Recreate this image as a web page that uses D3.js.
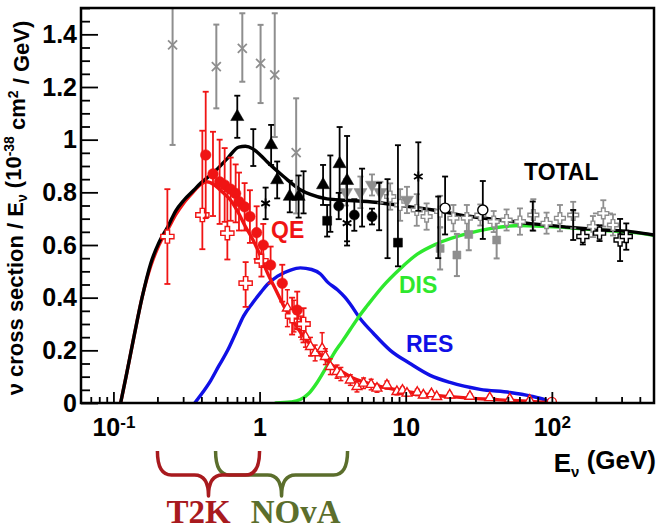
<!DOCTYPE html>
<html>
<head>
<meta charset="utf-8">
<script src="https://cdn.jsdelivr.net/npm/d3@7"></script>
<style>
  body { margin: 0; background: #fff; }
  svg { display: block; }
  text { font-family: "Liberation Sans", Arial, Helvetica, sans-serif; font-weight: bold; }
</style>
</head>
<body>
<svg id="chart" width="658" height="531"></svg>
<script>
// ---------------- axis definitions ----------------
const xDomain = [0.06, 500];          // neutrino energy, GeV (log)
const yDomain = [0, 1.5];            // sigma / E, 1e-38 cm^2 / GeV
const yMajorTicks = [0, 0.2, 0.4, 0.6, 0.8, 1, 1.2, 1.4];
const yTickLabels = ["0", "0.2", "0.4", "0.6", "0.8", "1", "1.2", "1.4"];
const xMajorTicks = [0.1, 1, 10, 100];
const xTickBase = ["10", "1", "10", "10"];
const xTickExp = ["-1", "", "", "2"];

// ---------------- model curves: [E, sigma/E] ----------------
const totalCurve = [[0.112,0],[0.122,0.10],[0.138,0.25],[0.157,0.40],[0.180,0.53],[0.205,0.61],[0.236,0.67],[0.267,0.73],[0.303,0.77],[0.35,0.805],[0.396,0.835],[0.449,0.86],[0.517,0.89],[0.605,0.93],[0.72,0.972],[0.80,0.975],[0.90,0.965],[1.02,0.94],[1.13,0.915],[1.46,0.86],[1.9,0.81],[2.23,0.792],[2.9,0.775],[3.86,0.77],[5.46,0.765],[9.2,0.75],[15.4,0.733],[26.3,0.71],[44,0.695],[74,0.68],[127,0.668],[213,0.658],[357,0.65],[500,0.638]];
const qeCurve = [[0.112,0],[0.122,0.10],[0.138,0.25],[0.157,0.40],[0.180,0.52],[0.205,0.60],[0.236,0.66],[0.267,0.715],[0.303,0.76],[0.35,0.80],[0.396,0.83],[0.435,0.84],[0.485,0.83],[0.559,0.80],[0.634,0.77],[0.72,0.72],[0.80,0.67],[0.90,0.62],[1.02,0.555],[1.13,0.495],[1.29,0.43],[1.46,0.37],[1.68,0.315],[1.9,0.27],[2.16,0.23],[2.49,0.195],[2.82,0.165],[3.2,0.14],[3.69,0.118],[4.18,0.10],[5.29,0.078],[7.02,0.06],[12,0.037],[20,0.024],[44,0.012],[71,0.006],[100,0]];
const resCurve = [[0.36,0],[0.396,0.03],[0.463,0.085],[0.525,0.14],[0.605,0.20],[0.686,0.265],[0.777,0.33],[0.896,0.38],[1.02,0.42],[1.13,0.45],[1.33,0.482],[1.63,0.505],[1.9,0.513],[2.27,0.507],[2.61,0.49],[2.91,0.46],[3.41,0.43],[3.86,0.40],[4.18,0.375],[4.89,0.32],[6.0,0.265],[7.84,0.20],[10.7,0.15],[14.7,0.105],[20.1,0.078],[32.3,0.052],[51.7,0.04],[70.8,0.027],[89.6,0.012],[100,0]];
const disCurve = [[1.29,0],[1.63,0.004],[1.9,0.013],[2.16,0.035],[2.49,0.08],[2.82,0.13],[3.2,0.185],[3.69,0.235],[4.18,0.28],[4.74,0.325],[5.46,0.37],[7.02,0.445],[9.17,0.51],[12,0.565],[16.4,0.605],[26.3,0.643],[37.7,0.662],[60,0.674],[113,0.668],[213,0.656],[357,0.648],[500,0.637]];

// ---------------- measurements: [E, sigma/E, err-, err+] ----------------
const qeFilledCircles = [[0.428,0.942,0.24,0.24],[0.480,0.870,0.16,0.16],[0.533,0.840,0.16,0.16],[0.577,0.828,0.14,0.14],[0.634,0.812,0.12,0.12],[0.686,0.796,0.11,0.11],[0.723,0.765,0.11,0.11],[0.790,0.745,0.09,0.09],[0.859,0.708,0.10,0.10],[0.955,0.647,0.10,0.10],[1.06,0.600,0.08,0.08],[1.19,0.524,0.07,0.07],[1.43,0.455,0.07,0.07],[1.81,0.353,0.07,0.07]];
const qeOpenCrosses = [[0.234,0.632,0.18,0.18],[0.406,0.714,0.13,0.32],[0.602,0.645,0.10,0.16],[0.803,0.455,0.09,0.08],[1.03,0.54,0.06,0.06],[1.67,0.33,0.07,0.07],[2.0,0.30,0.07,0.06]];
const qeOpenTriangles = [[1.55,0.36,0.07,0.07],[1.72,0.33,0.06,0.06],[1.905,0.29,0.04,0.04],[2.06,0.252,0.04,0.04],[2.23,0.214,0.035,0.035],[2.4,0.19,0.03,0.03],[2.68,0.207,0.03,0.06],[2.82,0.176,0.03,0.03],[3.05,0.138,0.03,0.03],[3.39,0.119,0.025,0.025],[3.6,0.11,0.025,0.025],[4.18,0.087,0.02,0.02],[4.64,0.062,0.02,0.02],[5.15,0.075,0.02,0.02],[5.8,0.07,0.02,0.02],[6.36,0.056,0.015,0.015],[7.44,0.068,0.015,0.015],[8.71,0.043,0.012,0.012],[9.5,0.048,0.012,0.012],[10.2,0.037,0.01,0.01],[12,0.04,0.012,0.012],[13.2,0.030,0.01,0.01],[15,0.035,0.01,0.01],[16.3,0.024,0.008,0.008],[20,0.03,0.01,0.01],[27.5,0.025,0.01,0.01],[37.6,0.02,0.008,0.008],[51.5,0.015,0.006,0.006],[70.5,0.01,0.005,0.005]];
const qeOpenCircles = [[100,0.004,0.004,0.004]];

const totFilledTriangles = [[0.704,1.087,0.08,0.08],[1.20,0.98,0.076,0.076],[1.32,0.847,0.07,0.07],[1.61,0.784,0.06,0.06],[1.85,0.784,0.08,0.08],[2.72,0.828,0.076,0.076],[3.53,0.908,0.14,0.14],[3.97,0.844,0.23,0.17]];
const totFilledCircles = [[3.48,0.748,0.05,0.05],[4.45,0.714,0.06,0.06],[5.88,0.708,0.03,0.03]];
const totFilledSquares = [[2.9,0.692,0.06,0.06],[8.85,0.609,0.09,0.37]];
const totStars = [[1.1,0.758,0.06,0.06],[3.97,0.683,0.085,0.085],[12.2,0.86,0.13,0.13]];
const totBars = [[0.906,0.97,0.07,0.07],[2.0,0.80,0.08,0.08],[3.05,0.79,0.14,0.15],[5.03,0.78,0.11,0.11],[6.58,0.746,0.09,0.09],[7.51,0.70,0.15,0.15],[16.7,0.667,0.117,0.117],[74,0.71,0.055,0.055],[140,0.676,0.057,0.057]];
const totOpenCircles = [[18.6,0.74,0.10,0.12],[33.7,0.733,0.11,0.11]];
const totOpenCrosses = [[163,0.632,0.03,0.03],[212,0.645,0.03,0.03],[293,0.619,0.08,0.08],[323,0.632,0.05,0.05]];

const grayX = [[0.254,1.36,0.38,0.14],[0.506,1.277,0.158,0.16],[0.762,1.347,0.127,0.133],[1.016,1.29,0.151,0.146],[1.27,1.246,0.236,0.234],[1.78,0.951,0.231,0.206]];
const graySquares = [[17.2,0.587,0.08,0.08],[22.4,0.562,0.08,0.08],[27,0.64,0.06,0.06],[41.9,0.619,0.07,0.07]];
const grayTrianglesDown = [[3.9,0.80,0.05,0.05],[4.9,0.80,0.06,0.06],[5.88,0.828,0.04,0.04],[6.71,0.80,0.04,0.04],[10.2,0.771,0.05,0.05]];
const grayOpenCrosses = [[7.83,0.784,0.05,0.05],[9.16,0.752,0.06,0.06],[11.9,0.733,0.06,0.06],[13.9,0.708,0.05,0.05],[17.2,0.727,0.06,0.06],[21.2,0.702,0.05,0.05],[26.2,0.702,0.05,0.05],[32.4,0.714,0.04,0.04],[40,0.689,0.04,0.04],[49,0.695,0.04,0.04],[60.5,0.689,0.05,0.05],[74.7,0.714,0.06,0.06],[92,0.683,0.04,0.04],[113.6,0.702,0.05,0.05],[140,0.714,0.05,0.05],[191,0.67,0.04,0.04],[262,0.676,0.04,0.04]];
// wide-bin point: [E, sigma/E, err-, err+, Emin, Emax]
const grayWideBins = [[225,0.72,0.05,0.05,191,262]];

// ---------------- experiment energy ranges ----------------
const experiments = ["T2K", "NOvA"];
const rangeLow = [0.2, 0.5];
const rangeHigh = [1, 4];
const experimentColors = ["#a81a1e", "#5b6e2c"];

// ---------------- layout ----------------
const svg = d3.select("#chart");
const frameL = 81, frameR = 654, frameT = 8, frameB = 403;
const x = d3.scaleLog().domain(xDomain).range([frameL, frameR]);
const y = d3.scaleLinear().domain(yDomain).range([frameB, frameT]);

const RED = "#f01414", BLACK = "#000", GRAY = "#8e8e8e";
const BLUE = "#1010e6", GREEN = "#2ee82e";

svg.append("defs").append("clipPath").attr("id", "plotArea")
  .append("rect").attr("x", frameL).attr("y", frameT)
  .attr("width", frameR - frameL).attr("height", frameB - frameT);

const plot = svg.append("g").attr("clip-path", "url(#plotArea)");

// ---------------- curves ----------------
const line = d3.line().x(d => x(d[0])).y(d => y(d[1])).curve(d3.curveMonotoneX);
[[resCurve, BLUE], [disCurve, GREEN], [qeCurve, RED], [totalCurve, BLACK]].forEach(([data, color]) => {
  plot.append("path").datum(data).attr("d", line)
    .attr("fill", "none").attr("stroke", color).attr("stroke-width", 3.4)
    .attr("stroke-linejoin", "round").attr("stroke-linecap", "round");
});

// ---------------- markers ----------------
function shapePath(shape, s) {
  switch (shape) {
    case "circle": return d3.symbol(d3.symbolCircle, s * s * 0.8)();
    case "triangle": return d3.symbol(d3.symbolTriangle, s * s * 0.75)();
    case "square": return d3.symbol(d3.symbolSquare, s * s * 0.8)();
    case "plus": return d3.symbol(d3.symbolCross, s * s * 0.8)();
    case "x": { const h = s / 2; return `M${-h},${-h}L${h},${h}M${-h},${h}L${h},${-h}`; }
    case "star": {
      const h = s / 2, c = h * Math.cos(Math.PI / 6), q = h * Math.sin(Math.PI / 6);
      return `M0,${-h}L0,${h}M${-c},${-q}L${c},${q}M${-c},${q}L${c},${-q}`;
    }
  }
  return "";
}

function drawSeries(data, opt) {
  const g = plot.append("g");
  const cap = opt.cap ?? 3;
  const bw = opt.bw ?? 1.8;
  const pts = g.selectAll("g").data(data).join("g");
  pts.append("line")
    .attr("x1", d => x(d[0])).attr("x2", d => x(d[0]))
    .attr("y1", d => y(d[1] - d[2])).attr("y2", d => y(d[1] + d[3]))
    .attr("stroke", opt.color).attr("stroke-width", bw);
  [-1, 1].forEach(sgn => {
    const ey = d => y(sgn < 0 ? d[1] - d[2] : d[1] + d[3]);
    pts.append("line")
      .attr("x1", d => x(d[0]) - cap).attr("x2", d => x(d[0]) + cap)
      .attr("y1", ey).attr("y2", ey)
      .attr("stroke", opt.color).attr("stroke-width", bw);
  });
  pts.filter(d => d.length > 4).append("line")
    .attr("x1", d => x(d[4])).attr("x2", d => x(d[5]))
    .attr("y1", d => y(d[1])).attr("y2", d => y(d[1]))
    .attr("stroke", opt.color).attr("stroke-width", bw);
  if (opt.shape) {
    const stroked = opt.shape === "x" || opt.shape === "star";
    pts.append("path")
      .attr("d", shapePath(opt.shape, opt.size ?? 9))
      .attr("transform", d => `translate(${x(d[0])},${y(d[1])})${opt.rotate ? " rotate(180)" : ""}`)
      .attr("fill", stroked ? "none" : (opt.hollow ? "#fff" : opt.color))
      .attr("stroke", opt.color)
      .attr("stroke-width", stroked ? 1.8 : (opt.hollow ? 1.4 : 0.5));
  }
}

drawSeries(grayX, { color: GRAY, shape: "x", size: 9, bw: 2 });
drawSeries(graySquares, { color: GRAY, shape: "square", size: 9, bw: 2 });
drawSeries(grayOpenCrosses, { color: GRAY, shape: "plus", size: 9, hollow: true, bw: 1.8 });
drawSeries(grayWideBins, { color: GRAY, shape: "plus", size: 9, hollow: true, bw: 1.8 });
drawSeries(grayTrianglesDown, { color: GRAY, shape: "triangle", size: 10, rotate: true, bw: 1.8 });

drawSeries(totBars, { color: BLACK, bw: 1.8 });
drawSeries(totFilledTriangles, { color: BLACK, shape: "triangle", size: 10 });
drawSeries(totFilledCircles, { color: BLACK, shape: "circle", size: 10 });
drawSeries(totFilledSquares, { color: BLACK, shape: "square", size: 10 });
drawSeries(totStars, { color: BLACK, shape: "star", size: 10 });
drawSeries(totOpenCircles, { color: BLACK, shape: "circle", size: 10, hollow: true });
drawSeries(totOpenCrosses, { color: BLACK, shape: "plus", size: 10, hollow: true });

drawSeries(qeOpenTriangles, { color: RED, shape: "triangle", size: 7.5, hollow: true, bw: 1.5, cap: 2.5 });
drawSeries(qeOpenCrosses, { color: RED, shape: "plus", size: 11, hollow: true });
drawSeries(qeFilledCircles, { color: RED, shape: "circle", size: 10.5 });
drawSeries(qeOpenCircles, { color: RED, shape: "circle", size: 9, hollow: true });

// ---------------- frame & axes ----------------
svg.append("rect").attr("x", frameL).attr("y", frameT)
  .attr("width", frameR - frameL).attr("height", frameB - frameT)
  .attr("fill", "none").attr("stroke", "#000").attr("stroke-width", 2.5);

const yMinor = d3.range(0, 1.5001, 0.05).filter(v => !yMajorTicks.some(t => Math.abs(t - v) < 1e-6));
const yMinorAxis = svg.append("g").attr("transform", `translate(${frameL},0)`)
  .call(d3.axisLeft(y).tickValues(yMinor).tickSize(-9).tickFormat(""));
const yAxis = svg.append("g").attr("transform", `translate(${frameL},0)`)
  .call(d3.axisLeft(y).tickValues(yMajorTicks).tickSize(-17).tickPadding(4)
    .tickFormat((d, i) => yTickLabels[i]));

const xMinor = [];
for (let p = -2; p <= 2; p++) for (let k = 2; k <= 9; k++) {
  const v = k * Math.pow(10, p);
  if (v > xDomain[0] && v < xDomain[1]) xMinor.push(v);
}
const xMinorAxis = svg.append("g").attr("transform", `translate(0,${frameB})`)
  .call(d3.axisBottom(x).tickValues(xMinor).tickSize(-6).tickFormat(""));
const xAxis = svg.append("g").attr("transform", `translate(0,${frameB})`)
  .call(d3.axisBottom(x).tickValues(xMajorTicks).tickSize(-11).tickPadding(15)
    .tickFormat((d, i) => xTickBase[i]));

[yMinorAxis, yAxis, xMinorAxis, xAxis].forEach(g => {
  g.select(".domain").remove();
  g.selectAll(".tick line").attr("stroke", "#000").attr("stroke-width", 1.8);
  g.selectAll(".tick text").attr("fill", "#000")
    .style("font-size", "25px").style("font-weight", "bold")
    .style("font-family", '"Liberation Sans", Arial, sans-serif');
});
xAxis.selectAll(".tick text").each(function (d, i) {
  if (!xTickExp[i]) return;
  d3.select(this).append("tspan").attr("dy", "-0.45em").style("font-size", "17px").text(xTickExp[i]);
});

// axis titles
const yTitle = svg.append("text").attr("transform", "translate(23,208) rotate(-90)")
  .attr("text-anchor", "middle").style("font-size", "22px").attr("fill", "#000");
yTitle.append("tspan").text("\u03bd cross section / E");
yTitle.append("tspan").attr("dy", "0.3em").style("font-size", "14px").text("\u03bd");
yTitle.append("tspan").attr("dy", "-0.3em").text(" (10");
yTitle.append("tspan").attr("dy", "-0.5em").style("font-size", "14px").text("-38");
yTitle.append("tspan").attr("dy", "0.5em").text(" cm");
yTitle.append("tspan").attr("dy", "-0.5em").style("font-size", "14px").text("2");
yTitle.append("tspan").attr("dy", "0.5em").text(" / GeV)");

const xTitle = svg.append("text").attr("x", 656).attr("y", 472)
  .attr("text-anchor", "end").style("font-size", "26px").attr("fill", "#000");
xTitle.append("tspan").text("E");
xTitle.append("tspan").attr("dy", "0.3em").style("font-size", "15px").text("\u03bd");
xTitle.append("tspan").attr("dy", "-0.3em").text(" (GeV)");

// curve labels
const curveLabels = [["TOTAL", BLACK, 524, 180], ["QE", RED, 271, 238], ["DIS", GREEN, 399, 293], ["RES", BLUE, 406, 352]];
curveLabels.forEach(([t, c, lx, ly]) => {
  svg.append("text").attr("x", lx).attr("y", ly).attr("fill", c)
    .style("font-size", "23px").text(t);
});

// ---------------- experiment energy ranges (braces) ----------------
function bracePath(x0, x1) {
  const yt = 451, yh = 475, yp = 496, r = 14, xm = (x0 + x1) / 2;
  return `M${x0},${yt} Q${x0},${yh} ${x0 + r},${yh} L${xm - r},${yh} Q${xm},${yh} ${xm},${yp}` +
         ` Q${xm},${yh} ${xm + r},${yh} L${x1 - r},${yh} Q${x1},${yh} ${x1},${yt}`;
}
const textShift = [-10, 14];
[1, 0].forEach(i => {
  svg.append("path").attr("d", bracePath(x(rangeLow[i]), x(rangeHigh[i])))
    .attr("fill", "none").attr("stroke", experimentColors[i]).attr("stroke-width", 3.5)
    .attr("stroke-linejoin", "round");
});
experiments.forEach((name, i) => {
  svg.append("text")
    .attr("x", (x(rangeLow[i]) + x(rangeHigh[i])) / 2 + textShift[i]).attr("y", 523)
    .attr("text-anchor", "middle").attr("fill", experimentColors[i])
    .style("font-family", '"Liberation Serif", "Times New Roman", serif')
    .style("font-size", "33px").style("font-weight", "bold").text(name);
});
</script>
</body>
</html>
